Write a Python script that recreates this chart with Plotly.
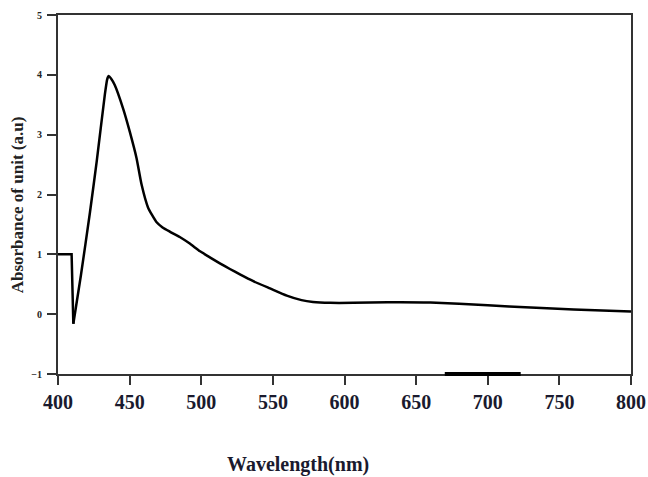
import plotly.graph_objects as go

wavelength = [400, 409.5, 410.7, 416, 422.3, 427, 432.7, 434.3, 435.3, 437, 439.6,
              445.4, 450.1, 454.8, 458.3, 462.9, 468.7, 473, 478, 485, 492, 499.2, 506,
              513, 520, 527, 536, 548, 559.7, 570, 578, 590, 606, 630,
              660, 700, 730, 760, 800]
absorbance = [1.0, 1.0, -0.16, 0.65, 1.7, 2.55, 3.67, 3.92, 3.98, 3.94, 3.83,
              3.44, 3.05, 2.61, 2.17, 1.78, 1.54, 1.45, 1.38, 1.29, 1.18, 1.05, 0.95,
              0.85, 0.755, 0.665, 0.555, 0.43, 0.31, 0.235, 0.205, 0.19, 0.19, 0.2,
              0.195, 0.15, 0.11, 0.08, 0.045]

x_ticks = [400, 450, 500, 550, 600, 650, 700, 750, 800]
y_ticks = [-1, 0, 1, 2, 3, 4, 5]

x_title = "Wavelength(nm)"
y_title = "Absorbance of unit (a.u)"

# thick mark on the x-axis seen in the original figure (in wavelength units)
axis_mark = [670, 723]

split = 3  # first points (baseline + sharp drop) drawn straight, rest smoothed

fig = go.Figure()
fig.add_trace(go.Scatter(x=wavelength[:split], y=absorbance[:split], mode="lines",
                         line=dict(color="black", width=2.5), showlegend=False))
fig.add_trace(go.Scatter(x=wavelength[split - 1:], y=absorbance[split - 1:], mode="lines",
                         line=dict(color="black", width=2.5, shape="spline", smoothing=0.5),
                         showlegend=False))

fig.add_shape(type="line", xref="x", yref="paper", x0=axis_mark[0], x1=axis_mark[1],
              y0=0, y1=0, line=dict(color="black", width=4))

serif = "Liberation Serif"

# axis titles as annotations for precise placement
fig.add_annotation(text=x_title, xref="paper", yref="paper", x=0.418, y=0, yshift=-90,
                   showarrow=False, xanchor="center", yanchor="middle",
                   font=dict(family=serif, size=20, color="#1a1a2e", weight="bold"))
fig.add_annotation(text=y_title, xref="paper", yref="paper", x=0, y=0.47, xshift=-41,
                   showarrow=False, xanchor="center", yanchor="middle", textangle=-90,
                   font=dict(family=serif, size=17, color="#222", weight="bold"))

fig.update_layout(
    width=648, height=477,
    margin=dict(l=58, r=17, t=15, b=103),
    paper_bgcolor="white", plot_bgcolor="white",
    xaxis=dict(range=[400, 800], tickvals=x_ticks, ticks="outside", ticklen=9,
               tickwidth=1.5, tickcolor="#333", showline=True, linewidth=2,
               linecolor="#333", mirror=True, showgrid=False, zeroline=False,
               automargin=False,
               tickfont=dict(family=serif, size=20, color="#1a1a2e", weight="bold"),
               ticklabelstandoff=0),
    yaxis=dict(range=[-1, 5], tickvals=y_ticks, ticks="outside", ticklen=9,
               tickwidth=1.5, tickcolor="#333", showline=True, linewidth=2,
               linecolor="#333", mirror=True, showgrid=False, zeroline=False,
               automargin=False,
               tickfont=dict(family=serif, size=10, color="#222", weight="bold"),
               ticklabelstandoff=3),
)

fig.write_html("out.html",
               config={"displayModeBar": False},
               post_script="document.body.style.margin='0';"
                           "document.body.style.overflow='hidden';"
                           "document.documentElement.style.overflow='hidden';")
